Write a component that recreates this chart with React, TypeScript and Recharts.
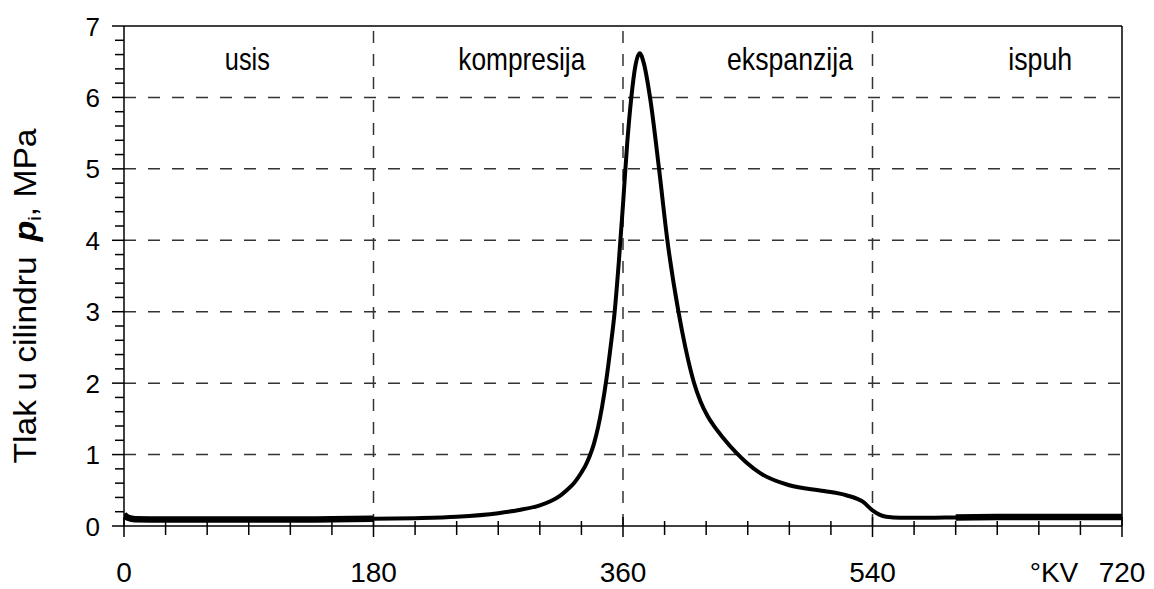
import { LineChart, Line, XAxis, YAxis, ReferenceLine, ReferenceDot } from "recharts";

// crank angle (°KV) and in-cylinder pressure (MPa)
const crankAngle = [
  0, 3, 8, 30, 60, 90, 120, 150, 180, 210, 240, 270, 285, 300, 308, 315, 320, 325, 330, 333, 336, 339, 342, 345, 348,
  351, 354, 357, 360, 363, 366, 369, 372, 375, 379.5, 386, 392, 400, 405, 411, 416, 421, 426, 432, 442, 449, 459,
  480, 505, 521, 533, 540, 545, 550, 560, 580, 600, 630, 660, 690, 720,
];
const pressure = [
  0.16, 0.115, 0.095, 0.09, 0.09, 0.09, 0.09, 0.095, 0.1, 0.11, 0.13, 0.18, 0.225, 0.29, 0.35, 0.43, 0.51, 0.61, 0.75,
  0.85, 0.98, 1.15, 1.38, 1.68, 2.05, 2.5, 3.0, 3.7, 4.5, 5.35, 6.0, 6.45, 6.62, 6.48, 6.0, 5.0, 4.0, 3.0, 2.5, 2.02,
  1.74, 1.54, 1.39, 1.24, 1.02, 0.89, 0.74, 0.57, 0.49, 0.43, 0.34, 0.22, 0.16, 0.13, 0.115, 0.115, 0.12, 0.125,
  0.125, 0.125, 0.125,
];
// parts of the trace that are drawn heavier (overlapping cycles)
const pressureHeavy = [
  0.16, 0.115, 0.095, 0.09, 0.09, 0.09, 0.09, 0.095, 0.1, null, null, null, null, null, null, null, null, null, null,
  null, null, null, null, null, null, null, null, null, null, null, null, null, null, null, null, null, null, null,
  null, null, null, null, null, null, null, null, null, null, null, null, null, null, null, null, null, null, 0.12,
  0.125, 0.125, 0.125, 0.125,
];

const xTicks = [0, 30, 60, 90, 120, 150, 180, 210, 240, 270, 300, 330, 360, 390, 420, 450, 480, 510, 540, 570, 600, 630, 660, 690, 720];
const xLabels = [0, 180, 360, 540, 720];
const yTicks = [
  0, 0.2, 0.4, 0.6, 0.8, 1, 1.2, 1.4, 1.6, 1.8, 2, 2.2, 2.4, 2.6, 2.8, 3, 3.2, 3.4, 3.6, 3.8, 4, 4.2, 4.4, 4.6, 4.8,
  5, 5.2, 5.4, 5.6, 5.8, 6, 6.2, 6.4, 6.6, 6.8, 7,
];
const yLabels = [0, 1, 2, 3, 4, 5, 6, 7];
const xGrid = [180, 360, 540];
const yGrid = [1, 2, 3, 4, 5, 6];

const phaseNames = ["usis", "kompresija", "ekspanzija", "ispuh"];
const phaseAngles = [89, 287, 480.5, 661];
const phaseLevel = 6.38;

const xUnit = "°KV";

const data = crankAngle.map((a, i) => ({ angle: a, p: pressure[i], heavy: pressureHeavy[i] }));

const FONT = "'Liberation Sans', Arial, sans-serif";
const phaseTextWidth = [45, 127, 126, 64];

function XTick(props: any) {
  const { x, y, payload } = props;
  const v = payload.value;
  const major = xLabels.includes(v);
  return (
    <g>
      <line x1={x} x2={x} y1={y - (major ? 9 : 5)} y2={y + (major ? 11 : 9)} stroke="#000" strokeWidth={1.5} />
      {major && (
        <text x={x} y={y + 56} textAnchor="middle" fontSize={28} fill="#000" fontFamily={FONT}>
          {v}
        </text>
      )}
      {v === 720 && (
        <text x={x - 68} y={y + 56} textAnchor="middle" fontSize={28} fill="#000" fontFamily={FONT}>
          {xUnit}
        </text>
      )}
    </g>
  );
}

function YTick(props: any) {
  const { x, y, payload } = props;
  const v = payload.value;
  const major = yLabels.some((l) => Math.abs(l - v) < 1e-6);
  return (
    <g>
      <line x1={x - (major ? 12 : 9)} x2={x} y1={y} y2={y} stroke="#000" strokeWidth={1.5} />
      {major && (
        <text x={x - 24} y={y + 9.5} textAnchor="end" fontSize={26} fill="#000" fontFamily={FONT}>
          {Math.round(v)}
        </text>
      )}
    </g>
  );
}

function YTitle() {
  return (
    <text
      transform="translate(36, 296) rotate(-90)"
      textAnchor="middle"
      fontSize={31}
      fill="#000"
      fontFamily={FONT}
      textLength={335}
      lengthAdjust="spacingAndGlyphs"
    >
      Tlak u cilindru
      <tspan dx={14} fontWeight="bold" fontStyle="italic">p</tspan>
      <tspan fontSize={19} dy={5}>i</tspan>
      <tspan dy={-5}>, MPa</tspan>
    </text>
  );
}

export default function App() {
  return (
    <div style={{ position: "absolute", left: 0, top: 0, width: 1154, height: 589, background: "#fff" }}>
      <LineChart width={1154} height={589} data={data} margin={{ top: 26, right: 32, bottom: 0, left: 0 }}>
        <XAxis
          dataKey="angle"
          type="number"
          domain={[0, 720]}
          ticks={xTicks}
          interval={0}
          tickSize={0}
          tickMargin={0}
          height={63}
          tickLine={false}
          tick={<XTick />}
          axisLine={{ stroke: "#000", strokeWidth: 1.5 }}
          allowDataOverflow
        />
        <YAxis
          type="number"
          domain={[0, 7]}
          ticks={yTicks}
          interval={0}
          tickSize={0}
          tickMargin={0}
          width={124}
          tickLine={false}
          tick={<YTick />}
          axisLine={{ stroke: "#000", strokeWidth: 1.5 }}
          label={{ content: () => <YTitle /> }}
          allowDataOverflow
        />
        {yGrid.map((v) => (
          <ReferenceLine key={"h" + v} y={v} stroke="#333" strokeWidth={1.5} strokeDasharray="12 12" />
        ))}
        {xGrid.map((v) => (
          <ReferenceLine key={"v" + v} x={v} stroke="#333" strokeWidth={1.5} strokeDasharray="12 11" />
        ))}
        <ReferenceLine y={7} stroke="#000" strokeWidth={1.5} />
        <ReferenceLine x={720} stroke="#000" strokeWidth={1.5} />
        {phaseNames.map((name, i) => (
          <ReferenceDot
            key={name}
            x={phaseAngles[i]}
            y={phaseLevel}
            r={0}
            fill="none"
            stroke="none"
            label={{
              content: (p: any) => (
                <text
                  x={p.viewBox.x + p.viewBox.width / 2}
                  y={p.viewBox.y + p.viewBox.height / 2}
                  textAnchor="middle"
                  fontSize={32}
                  fill="#000"
                  fontFamily={FONT}
                  textLength={phaseTextWidth[i]}
                  lengthAdjust="spacingAndGlyphs"
                >
                  {name}
                </text>
              ),
            }}
          />
        ))}
        <Line
          type="monotone"
          dataKey="p"
          stroke="#000"
          strokeWidth={4}
          dot={false}
          activeDot={false}
          isAnimationActive={false}
        />
        <Line
          type="monotone"
          dataKey="heavy"
          stroke="#000"
          strokeWidth={6.5}
          dot={false}
          activeDot={false}
          connectNulls={false}
          isAnimationActive={false}
        />
      </LineChart>
    </div>
  );
}
